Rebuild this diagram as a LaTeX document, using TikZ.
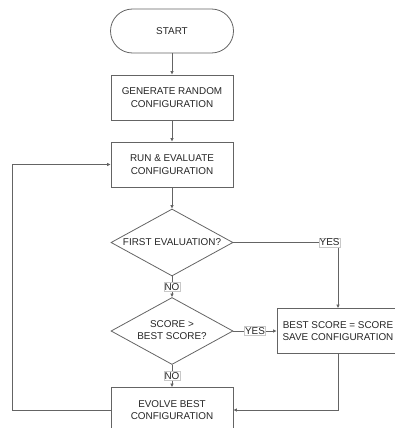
\documentclass[tikz,border=0pt]{standalone}
\usepackage{fontspec}
\setmainfont{Liberation Sans}
\usetikzlibrary{arrows.meta,positioning,shapes.geometric}
\definecolor{linegray}{RGB}{100,100,100}
\definecolor{labelgray}{RGB}{200,200,200}
\newcommand{\dlabel}[1]{\makebox[0pt][c]{\begin{tabular}{@{}c@{}}#1\end{tabular}}}

\begin{document}
\begin{tikzpicture}[x=1pt, y=1pt,
    font=\fontsize{9.9}{12.5}\selectfont, text=black!85,
    arr/.style={draw=linegray, line width=0.8pt, -{Latex[length=3.5pt,width=3.5pt]}},
    startbox/.style={draw=linegray, line width=0.8pt, rounded corners=22pt, minimum width=123pt, minimum height=44pt},
    procbox/.style={draw=linegray, line width=0.8pt, align=center, minimum width=122pt, minimum height=45pt, inner sep=2pt},
    decision/.style={diamond, draw=linegray, line width=0.8pt, minimum width=122pt, minimum height=67pt, inner sep=0pt},
    tag/.style={draw=labelgray, line width=0.5pt, fill=white, inner sep=0.8pt}]
    \useasboundingbox (0,0) rectangle (394,-428);

    % main column
    \node[startbox] (start) at (172,-31) {START};
    \node[procbox] (gen) at (172,-97.5) {GENERATE RANDOM\\CONFIGURATION};
    \node[procbox] (run) at (172,-164.5) {RUN \& EVALUATE\\CONFIGURATION};
    \node[decision] (first) at (172,-242.5) {\dlabel{FIRST EVALUATION?}};
    \node[decision] (better) at (172,-331) {\dlabel{SCORE >\\BEST SCORE?}};
    \node[procbox] (evolve) at (172,-410) {EVOLVE BEST\\CONFIGURATION};

    % right branch
    \node[procbox] (save) at (338,-331) {BEST SCORE = SCORE\\SAVE CONFIGURATION};
    \coordinate (back) at (12,-410);

    % connectors
    \draw[arr] (start) -- (gen);
    \draw[arr] (gen) -- (run);
    \draw[arr] (run) -- (first);
    \draw[arr] (first) -- node[tag] {NO} (better);
    \draw[arr] (first.east) -| node[tag, pos=0.46] {YES} (save.north);
    \draw[arr] (better.east) -- node[tag] {YES} (save.west);
    \draw[arr] (better) -- node[tag] {NO} (evolve);
    \draw[arr] (save.south) |- (evolve.east);
    \draw[arr] (evolve.west) -- (back) |- (run.west);
\end{tikzpicture}
\end{document}
